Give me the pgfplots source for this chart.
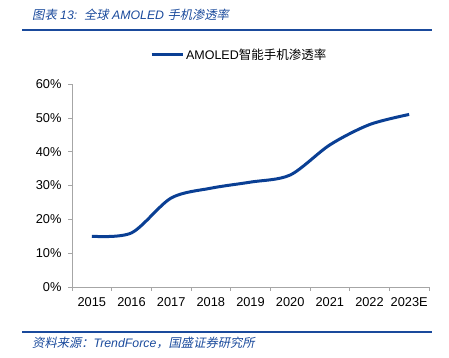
\documentclass[border=0pt]{standalone}
\usepackage{fontspec}
\setmainfont{Liberation Sans}
\newfontfamily\cjk{Noto Sans CJK SC}
\newfontfamily\cjkit[FakeSlant=0.2]{Noto Sans CJK SC}
\usepackage{pgfplots}
\pgfplotsset{compat=1.18}
\definecolor{lineblue}{HTML}{0A3F94}
\definecolor{titleblue}{HTML}{1A4A9C}
\definecolor{axgray}{HTML}{A6A6A6}
\begin{document}
\begin{tikzpicture}
\useasboundingbox (0pt,0pt) rectangle (449pt,358pt);
\draw[titleblue, line width=1.5pt] (22pt,328pt) -- (432pt,328pt);
\draw[titleblue, line width=1.5pt] (22pt,26pt) -- (432pt,26pt);
\node[anchor=west, text=titleblue, inner sep=0, font=\fontsize{12.3}{14}\selectfont] at (32pt,343pt) {{\cjkit 图表}\ \textit{13:}\ \ {\cjkit 全球}\ \textit{AMOLED}\ {\cjkit 手机渗透率}};
\node[anchor=west, text=titleblue, inner sep=0, font=\fontsize{12.3}{14}\selectfont] at (32pt,15pt) {{\cjkit 资料来源：}\textit{TrendForce}{\cjkit ，国盛证券研究所}};
\begin{axis}[
  at={(72pt,71pt)}, anchor=south west,
  width=357pt, height=203pt, scale only axis,
  xmin=-0.5, xmax=8.5, ymin=0, ymax=60,
  axis x line*=bottom, axis y line*=left,
  axis line style={axgray, line width=0.8pt, -},
  xtick={0,...,8},
  xticklabels={2015,2016,2017,2018,2019,2020,2021,2022,2023E},
  major x tick style={draw=none},
  minor xtick={-0.5,0.5,...,8.5},
  ytick={0,10,...,60},
  yticklabels={0\%,10\%,20\%,30\%,40\%,50\%,60\%},
  tick align=outside,
  tick style={axgray, line width=0.6pt},
  major tick length=4pt, minor tick length=4pt,
  tick label style={font=\fontsize{12.8}{14}\selectfont, black},
  xticklabel style={yshift=-3pt},
  yticklabel style={xshift=-3pt},
  legend style={at={(0.218,1.143)}, anchor=west, draw=none, fill=none,
    font=\fontsize{12.5}{14}\selectfont, inner sep=0pt},
  legend image code/.code={\draw[#1] (0pt,0pt) -- (31pt,0pt);},
]
\addplot[lineblue, line width=3pt, smooth, tension=0.5] coordinates {
(0,15.0) (1,16.0) (2,26.3) (3,29.2) (4,31.0) (5,33.1) (6,42.0) (7,48.0) (8,51.0)
};
\addlegendentry{AMOLED{\cjk 智能手机渗透率}}
\end{axis}
\end{tikzpicture}
\end{document}
